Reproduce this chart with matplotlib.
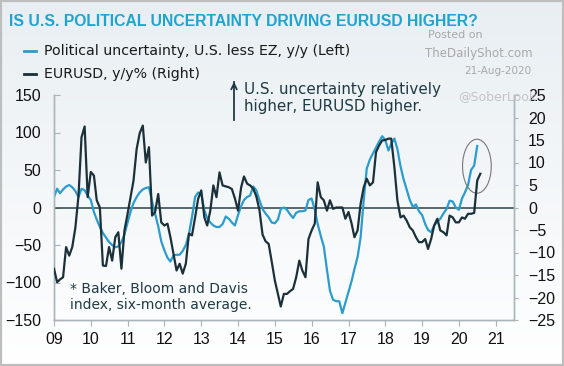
import numpy as np
import pandas as pd
import matplotlib
matplotlib.use("Agg")
import matplotlib.pyplot as plt
import matplotlib.dates as mdates
from matplotlib.patches import Ellipse, Rectangle
from matplotlib.lines import Line2D

plt.rcParams['font.family'] = ['DejaVu Sans']

# monthly values
# Political uncertainty, U.S. less EZ, y/y (left axis), Jan-2009 .. Jul-2020
uncertainty = [
    14, 25, 19, 24, 28, 30, 27, 22, 14, 25, 23, 16,            # 2009
    10, -6, -16, -26, -34, -40, -46, -50, -53, -52, -46, -36,  # 2010
    -20, -5, 6, 14, 20, 24, 26, 27, 8, -8, -25, -45,           # 2011
    -57, -67, -72, -64, -63, -63, -58, -50, -35, -13, 14, 20,  # 2012
    18, -4, -14, -20, -24, -26, -26, -22, -12, -15, -20, -24,  # 2013
    -10, 2, 10, 14, 16, 28, 23, 10, -2, -8, -13, -20,          # 2014
    -21, -16, -2, 0, -3, -9, -14, -7, -5, -5, -4, 10,          # 2015
    12, -3, -22, -38, -52, -83, -111, -123, -125, -125, -141, -127,  # 2016
    -112, -98, -82, -66, -40, 10, 52, 64, 72, 80, 88, 95,      # 2017
    90, 76, 85, 92, 78, 55, 38, 24, 10, 1, 4, -5,              # 2018
    -10, -22, -30, -33, -24, -19, -15, -8, -2, 9, 8, 0,        # 2019
    -3, 12, 20, 30, 50, 56, 82,                                # 2020
]

# EURUSD, y/y% (right axis), Jan-2009 .. Aug-2020
eurusd = [
    -13.6, -16.6, -16.0, -15.5, -8.8, -10.7, -8.8, -4.5, 2.6, 15.6, 18.0, 2.3,     # 2009
    7.9, 7.1, 1.6, 0.0, -12.9, -13.0, -8.8, -11.8, -6.6, -5.5, -13.6, -5.1,        # 2010
    -1.4, 2.5, 6.0, 13.0, 16.5, 18.2, 10.0, 13.4, -1.8, -1.0, 3.0, -3.3,           # 2011
    -4.0, -3.6, -6.6, -10.3, -14.0, -12.5, -14.7, -12.5, -5.8, -6.2, -2.2, 1.9,    # 2012
    3.8, -2.2, -4.0, -0.7, 4.9, 2.3, 7.8, 4.9, 4.7, 4.5, 4.1, 2.0,                 # 2013
    -0.7, 4.5, 6.9, 5.3, 4.9, 4.2, 2.5, -0.5, -6.0, -7.5, -8.1, -12.0,             # 2014
    -16.2, -19.2, -22.0, -19.2, -19.2, -18.6, -18.1, -15.5, -11.8, -14.0, -15.5, -7.0,  # 2015
    -5.1, -3.6, 5.6, 2.3, 1.6, -0.7, 1.6, -0.3, 0.0, 0.0, 0.0, -2.5,               # 2016
    -1.0, -3.6, -6.6, -5.1, 0.8, 4.5, 6.4, 4.9, 5.6, 12.3, 13.8, 14.9,             # 2017
    15.0, 15.3, 15.3, 9.0, 1.6, -2.2, -1.8, -2.9, -4.4, -5.1, -6.6, -7.7,          # 2018
    -7.7, -7.0, -9.2, -7.0, -4.0, -2.5, -5.1, -5.5, -6.2, -1.8, -2.2, -3.3,        # 2019
    -3.3, -2.2, -2.5, -1.4, -1.4, -1.2, 6.0, 7.5,                                  # 2020
]

dates_u = pd.date_range('2009-01-01', periods=len(uncertainty), freq='MS')
dates_e = pd.date_range('2009-01-01', periods=len(eurusd), freq='MS')

BLUE = '#2b9ccb'
DARK = '#1b3039'
TEXT = '#1f3a44'
SPINE = '#a9b5bb'

fig = plt.figure(figsize=(5.64, 3.66), dpi=100)

# background gradient + frame
bg = fig.add_axes([0, 0, 1, 1], zorder=-10)
grad = np.linspace(0, 1, 256).reshape(-1, 1)
top = np.array([0.91, 0.935, 0.95])
bot = np.array([1.0, 1.0, 1.0])
img = top[None, None, :] * (1 - grad[:, :, None]) + bot[None, None, :] * grad[:, :, None]
bg.imshow(np.clip(img, 0, 1), aspect='auto', extent=[0, 1, 0, 1])
bg.add_patch(Rectangle((0, 0), 1, 1, transform=bg.transAxes, fill=False,
                       edgecolor='#bdbdbd', lw=3))
bg.set_xlim(0, 1)
bg.set_ylim(0, 1)
bg.axis('off')

ax = fig.add_axes([54 / 564, 46 / 366, 460 / 564, 225 / 366])
ax.set_facecolor('none')
ax2 = ax.twinx()

ax.plot(dates_u, uncertainty, color=BLUE, lw=1.6, zorder=3)
ax.axhline(0, color='#2c4048', lw=1.1, zorder=2)
ax2.plot(dates_e, eurusd, color=DARK, lw=1.6, zorder=4)

ax.set_ylim(-150, 150)
ax2.set_ylim(-25, 25)
ax.set_yticks(np.arange(-150, 151, 50))
ax2.set_yticks(np.arange(-25, 26, 5))
ax.set_xlim(pd.Timestamp('2009-01-01'), pd.Timestamp('2021-07-01'))
ax.xaxis.set_major_locator(mdates.YearLocator())
ax.xaxis.set_major_formatter(mdates.DateFormatter('%y'))

for a in (ax, ax2):
    a.spines['top'].set_visible(False)
    for s in ('left', 'right', 'bottom'):
        a.spines[s].set_color(SPINE)
        a.spines[s].set_linewidth(1.0)

ax.tick_params(axis='y', direction='in', length=4, color=SPINE, pad=9,
               labelsize=11.5, labelcolor='#111111')
ax.tick_params(axis='x', direction='out', length=4, color=SPINE, pad=5,
               labelsize=11.5, labelcolor='#111111')
ax2.tick_params(axis='y', direction='out', length=3, color=SPINE, pad=7,
                labelsize=11.5, labelcolor='#111111')
for lab in ax.get_xticklabels() + ax.get_yticklabels() + ax2.get_yticklabels():
    lab.set_family('Liberation Sans')

# circled recent move
ax.add_patch(Ellipse((mdates.date2num(pd.Timestamp('2020-06-28')), 55),
                     width=285, height=72, fill=False, edgecolor='#777777',
                     lw=0.8, zorder=5))

# title and legend
fig.text(9 / 564, 1 - 21 / 366, 'IS U.S. POLITICAL UNCERTAINTY DRIVING EURUSD HIGHER?',
         color='#1fa4d0', fontsize=11.3, fontweight='bold', va='center',
         family='Liberation Sans')
for y, col, lab in [(51, BLUE, 'Political uncertainty, U.S. less EZ, y/y (Left)'),
                    (74, DARK, 'EURUSD, y/y% (Right)')]:
    fy = 1 - y / 366
    fig.add_artist(Line2D([24 / 564, 36 / 564], [fy, fy], color=col, lw=2))
    fig.text(44 / 564, fy, lab, fontsize=10.2, color='#1a1a1a', va='center')

fig.text(428 / 564, 1 - 35 / 366, 'Posted on', fontsize=8, color='#a8a8a8', va='center')
fig.text(425 / 564, 1 - 53 / 366, 'TheDailyShot.com', fontsize=8.5, color='#a8a8a8', va='center')
fig.text(531 / 564, 1 - 71 / 366, '21-Aug-2020', fontsize=7.5, color='#a8a8a8',
         va='center', ha='right')
fig.text(458 / 564, 1 - 97 / 366, '@SoberLook', fontsize=9, color='#c4c4c4',
         va='center', zorder=0)

# annotation
fig.add_artist(Line2D([234 / 564, 234 / 564], [1 - 120 / 366, 1 - 82 / 366],
                      color=TEXT, lw=1.3))
ax.annotate('', xy=(234 / 564, 1 - 79 / 366), xytext=(234 / 564, 1 - 90 / 366),
            xycoords='figure fraction', textcoords='figure fraction',
            arrowprops=dict(arrowstyle='->', color=TEXT, lw=1.3))
fig.text(244 / 564, 1 - 98 / 366, 'U.S. uncertainty relatively\nhigher, EURUSD higher.',
         fontsize=10.9, color=TEXT, va='center', linespacing=1.1)

fig.text(70 / 564, 1 - 297 / 366, '* Baker, Bloom and Davis\nindex, six-month average.',
         fontsize=10, color=TEXT, va='center', linespacing=1.15)

fig.savefig('out.png', dpi=100)
